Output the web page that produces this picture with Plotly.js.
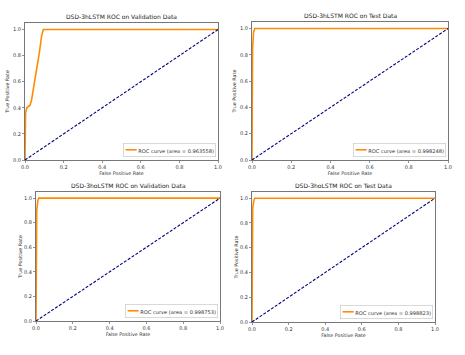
<!DOCTYPE html>
<html>
<head>
<meta charset="utf-8">
<script src="https://cdn.plot.ly/plotly-3.0.1.min.js"></script>
<style>html,body{margin:0;padding:0;background:#fff;}#chart{width:465px;height:355px;}</style>
</head>
<body>
<div id="chart"></div>
<script>
// Panel titles
const panelTitles = [
  "DSD-3hLSTM ROC on Validation Data",
  "DSD-3hLSTM ROC on Test Data",
  "DSD-3hoLSTM ROC on Validation Data",
  "DSD-3hoLSTM ROC on Test Data"
];
// AUC values
const aucValues = ["0.963558", "0.998248", "0.998753", "0.998823"];

// ROC curves
const fpr_h_val = [0.0, 0.0, 0.003, 0.009, 0.026, 0.034, 0.043, 0.052, 0.060, 0.074, 0.086, 0.095, 1.0];
const tpr_h_val = [0.0, 0.20, 0.36, 0.40, 0.42, 0.46, 0.54, 0.60, 0.68, 0.82, 0.95, 1.0, 1.0];

const fpr_h_test = [0.0, 0.0, 0.003, 0.008, 0.014, 1.0];
const tpr_h_test = [0.0, 0.60, 0.85, 0.97, 1.0, 1.0];

const fpr_ho_val = [0.0, 0.0, 0.004, 0.010, 0.015, 1.0];
const tpr_ho_val = [0.0, 0.80, 0.90, 0.98, 1.0, 1.0];

const fpr_ho_test = [0.0, 0.0, 0.004, 0.010, 0.015, 1.0];
const tpr_ho_test = [0.0, 0.80, 0.92, 0.98, 1.0, 1.0];

// Chance diagonal
const diag_x = [0, 1];
const diag_y = [0, 1];

const xLabel = "False Positive Rate";
const yLabel = "True Positive Rate";

const curves = [
  [fpr_h_val, tpr_h_val],
  [fpr_h_test, tpr_h_test],
  [fpr_ho_val, tpr_ho_val],
  [fpr_ho_test, tpr_ho_test]
];

const ORANGE = "#ff8c00";
const NAVY = "#000080";
const FONT = "DejaVu Sans, sans-serif";

const traces = [];
curves.forEach((c, i) => {
  const sx = i === 0 ? "" : String(i + 1);
  traces.push({
    x: c[0], y: c[1], type: "scatter", mode: "lines",
    xaxis: "x" + sx, yaxis: "y" + sx,
    line: {color: ORANGE, width: 1.6},
    hoverinfo: "skip", showlegend: false
  });
  traces.push({
    x: diag_x, y: diag_y, type: "scatter", mode: "lines",
    xaxis: "x" + sx, yaxis: "y" + sx,
    line: {color: NAVY, width: 1.1, dash: "3px,1.6px"},
    hoverinfo: "skip", showlegend: false
  });
});

const domains = [
  {x: [25/465, 218/465], y: [1 - 160/355, 1 - 23/355], ystand: 3},
  {x: [252/465, 448/465], y: [1 - 160/355, 1 - 22/355], ystand: 3},
  {x: [36/465, 220/465], y: [1 - 321/355, 1 - 192/355], ystand: 1},
  {x: [252/465, 435/465], y: [1 - 322/355, 1 - 192/355], ystand: 1}
];

const layout = {
  width: 465, height: 355,
  margin: {l: 0, r: 0, t: 0, b: 0},
  paper_bgcolor: "#fff", plot_bgcolor: "#fff",
  font: {family: FONT, size: 5, color: "#333"},
  showlegend: false,
  annotations: [],
  shapes: []
};

domains.forEach((d, i) => {
  const sx = i === 0 ? "" : String(i + 1);
  const common = {
    showgrid: false, zeroline: false,
    showline: true, mirror: true, linecolor: "#777", linewidth: 1,
    ticks: "outside", ticklen: 2, tickcolor: "#777", tickwidth: 0.8,
    tickfont: {family: FONT, size: 5, color: "#333"},
    tickformat: ".1f", fixedrange: true
  };
  layout["xaxis" + sx] = Object.assign({}, common, {
    domain: d.x, range: [0, 1], tickvals: [0, 0.2, 0.4, 0.6, 0.8, 1.0],
    anchor: "y" + sx,
    title: {text: xLabel, font: {family: FONT, size: 4.8, color: "#333"}, standoff: 2}
  });
  layout["yaxis" + sx] = Object.assign({}, common, {
    domain: d.y, range: [0, 1.05], tickvals: [0, 0.2, 0.4, 0.6, 0.8, 1.0],
    anchor: "x" + sx,
    title: {text: yLabel, font: {family: FONT, size: 4.8, color: "#333"}, standoff: d.ystand}
  });
  layout.annotations.push({
    text: panelTitles[i], showarrow: false,
    xref: "x" + sx + " domain", yref: "y" + sx + " domain",
    x: 0.5, y: 1, xanchor: "center", yanchor: "bottom", yshift: 1,
    font: {family: FONT, size: 6, color: "#222"}
  });
  layout.annotations.push({
    text: "<span style='color:" + ORANGE + ";font-size:9px'>━━</span> ROC curve (area = " + aucValues[i] + ")",
    showarrow: false,
    xref: "x" + sx + " domain", yref: "y" + sx + " domain",
    x: 0.99, y: 0.02, xanchor: "right", yanchor: "bottom",
    bordercolor: "#d0d0d0", borderwidth: 0.8, borderpad: 1, bgcolor: "rgba(255,255,255,0.8)",
    font: {family: FONT, size: 5.1, color: "#333"}
  });
});

Plotly.newPlot("chart", traces, layout, {displayModeBar: false, staticPlot: true});
</script>
</body>
</html>
